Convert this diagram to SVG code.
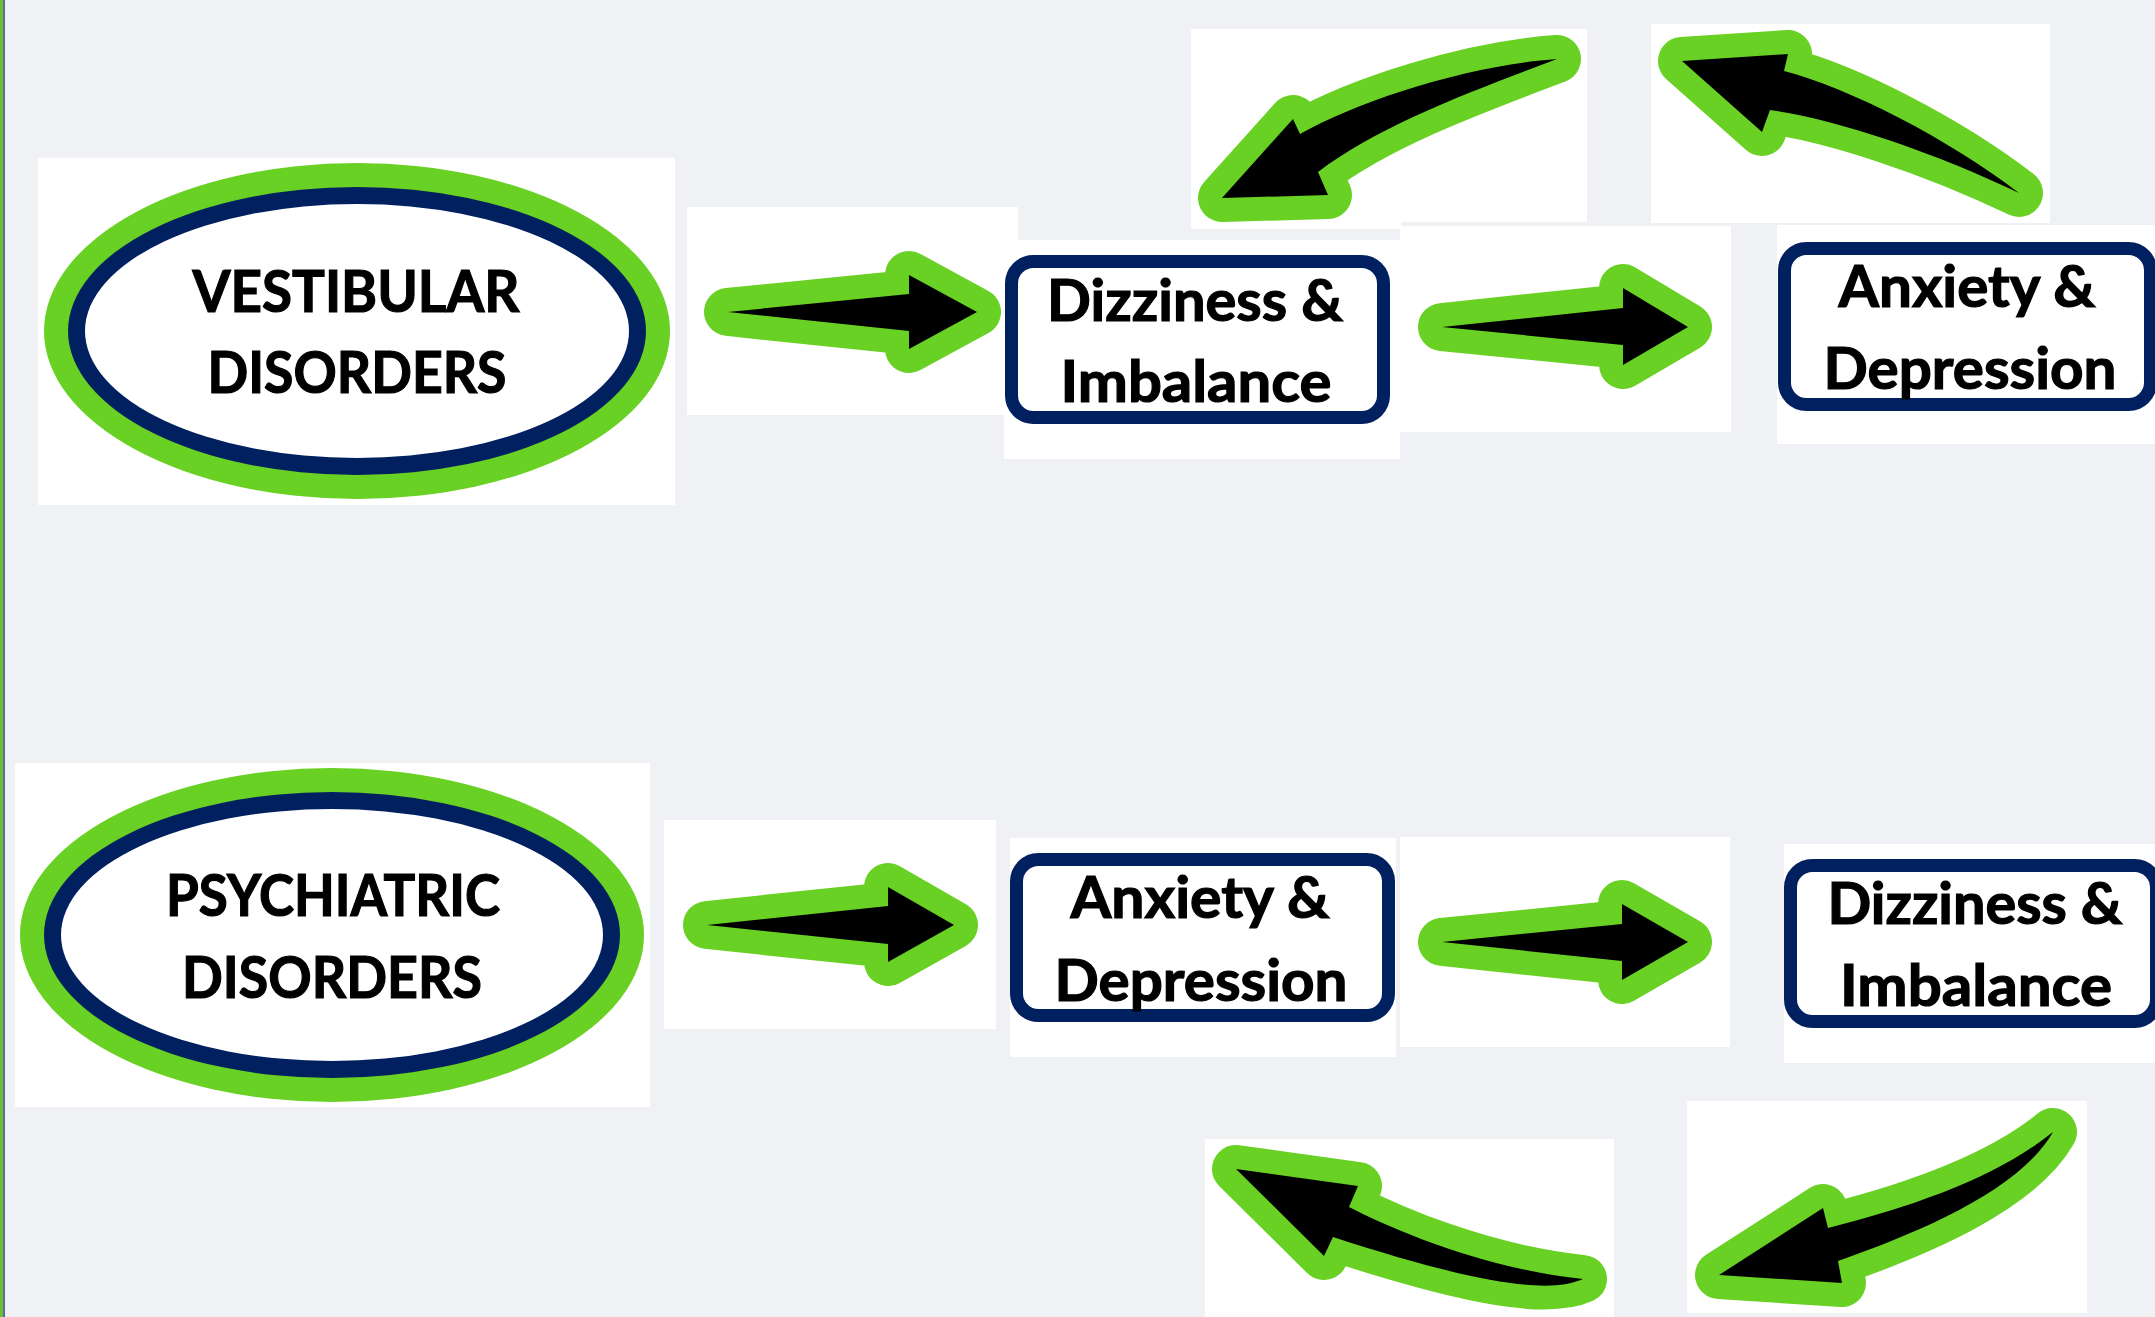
<svg xmlns="http://www.w3.org/2000/svg" width="2155" height="1317" viewBox="0 0 2155 1317">
<style>
.bg{fill:#fff}
.arr{fill:#000;stroke:#69d024;stroke-width:48;stroke-linejoin:round;paint-order:stroke fill}
.box{fill:#fff;stroke:#002060;stroke-width:13}
.t{font-family:Lato,"Open Sans","Liberation Sans",sans-serif;font-weight:700;font-size:57px;text-anchor:middle;fill:#000;stroke:#000;stroke-width:1.2}
.g{fill:#69d024}
.n{fill:#002060}
.w{fill:#fff}
</style>
<rect x="0" y="0" width="2155" height="1317" fill="#eff1f5"/>
<rect x="0" y="0" width="3" height="1317" fill="#69c02a"/>
<rect x="3" y="0" width="2" height="1317" fill="#5a6aa8"/>

<g id="connectors">
  <rect class="bg" x="687" y="207" width="331" height="208"/>
  <path class="arr" d="M728,312 L909,294 L909,275 L977,312 L909,349 L909,331 Z"/>
  <rect class="bg" x="1400" y="226" width="331" height="206"/>
  <path class="arr" d="M1442,327 L1623,308 L1623,288 L1688,327 L1623,365 L1623,345 Z"/>
  <rect class="bg" x="664" y="820" width="332" height="209"/>
  <path class="arr" d="M707,925 L888,906 L888,887 L954,925 L888,962 L888,944 Z"/>
  <rect class="bg" x="1400" y="837" width="330" height="210"/>
  <path class="arr" d="M1442,942 L1622,924 L1622,904 L1688,942 L1622,980 L1622,961 Z"/>
  <path class="bg" d="M1191,29 H1587 V222 H1401 V229 H1191 Z"/>
  <path class="arr" d="M1557,59 C1470,65 1360,100 1300,134 L1293,119 L1222,198 L1328,195 L1318,172 C1380,125 1470,92 1557,59 Z"/>
  <rect class="bg" x="1651" y="24" width="399" height="199"/>
  <path class="arr" d="M1682,61 L1788,54 L1784,71 C1850,88 1950,140 2019,193 C1930,150 1830,118 1770,110 L1762,132 Z"/>
  <rect class="bg" x="1205" y="1139" width="409" height="178"/>
  <path class="arr" d="M1236,1169 L1358,1186 L1349,1207 C1390,1228 1480,1268 1583,1279 C1550,1294 1480,1285 1333,1237 L1324,1256 Z"/>
  <rect class="bg" x="1687" y="1101" width="400" height="212"/>
  <path class="arr" d="M2053,1132 C2000,1175 1920,1205 1828,1228 L1823,1208 L1719,1275 L1842,1283 L1838,1261 C1920,1232 2020,1190 2053,1132 Z"/>
</g>

<g id="vestibular">
  <rect class="bg" x="38" y="158" width="637" height="347"/>
  <ellipse class="g" cx="357" cy="331" rx="313" ry="168"/>
  <ellipse class="n" cx="357" cy="331" rx="289" ry="144"/>
  <ellipse class="w" cx="357" cy="331" rx="272" ry="127"/>
  <text class="t" x="356" y="312" textLength="327" lengthAdjust="spacingAndGlyphs">VESTIBULAR</text>
  <text class="t" x="357" y="393" textLength="299" lengthAdjust="spacingAndGlyphs">DISORDERS</text>
</g>

<g id="dizziness-top">
  <rect class="bg" x="1004" y="240" width="396" height="219"/>
  <rect class="box" x="1011.5" y="261.5" width="372" height="156" rx="22"/>
  <text class="t" x="1195" y="321" textLength="296" lengthAdjust="spacingAndGlyphs">Dizziness &amp;</text>
  <text class="t" x="1196" y="402" textLength="271" lengthAdjust="spacingAndGlyphs">Imbalance</text>
</g>

<g id="anxiety-top">
  <rect class="bg" x="1777" y="225" width="378" height="219"/>
  <rect class="box" x="1784.5" y="248.5" width="366" height="156" rx="22"/>
  <text class="t" x="1967" y="307" textLength="257" lengthAdjust="spacingAndGlyphs">Anxiety &amp;</text>
  <text class="t" x="1970" y="389" textLength="293" lengthAdjust="spacingAndGlyphs">Depression</text>
</g>

<g id="psychiatric">
  <rect class="bg" x="15" y="763" width="635" height="344"/>
  <ellipse class="g" cx="332" cy="935" rx="312" ry="167"/>
  <ellipse class="n" cx="332" cy="935" rx="288" ry="143"/>
  <ellipse class="w" cx="332" cy="935" rx="271" ry="126"/>
  <text class="t" x="333" y="916" textLength="334" lengthAdjust="spacingAndGlyphs">PSYCHIATRIC</text>
  <text class="t" x="332" y="998" textLength="300" lengthAdjust="spacingAndGlyphs">DISORDERS</text>
</g>

<g id="anxiety-bottom">
  <rect class="bg" x="1010" y="838" width="386" height="219"/>
  <rect class="box" x="1016.5" y="859.5" width="372" height="156" rx="22"/>
  <text class="t" x="1200" y="918" textLength="259" lengthAdjust="spacingAndGlyphs">Anxiety &amp;</text>
  <text class="t" x="1201" y="1001" textLength="293" lengthAdjust="spacingAndGlyphs">Depression</text>
</g>

<g id="dizziness-bottom">
  <rect class="bg" x="1784" y="844" width="371" height="219"/>
  <rect class="box" x="1790.5" y="865.5" width="366" height="156" rx="22"/>
  <text class="t" x="1975" y="924" textLength="295" lengthAdjust="spacingAndGlyphs">Dizziness &amp;</text>
  <text class="t" x="1976" y="1006" textLength="272" lengthAdjust="spacingAndGlyphs">Imbalance</text>
</g>
</svg>
